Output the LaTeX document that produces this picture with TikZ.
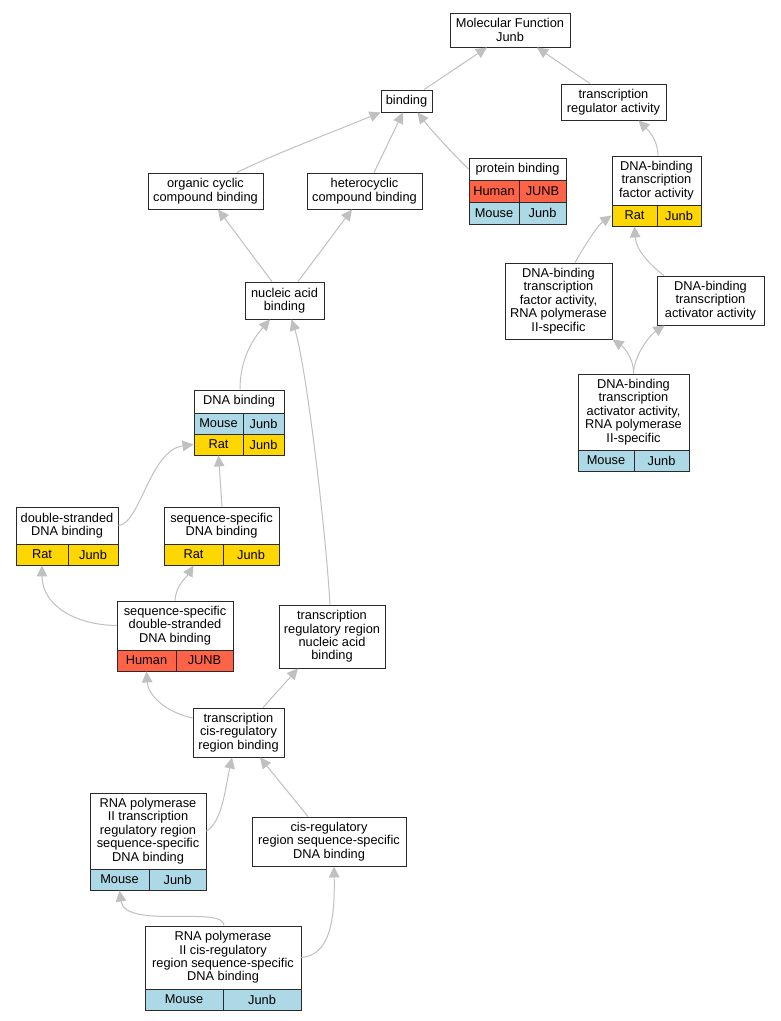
\documentclass[tikz,border=0pt]{standalone}
\usepackage{fontspec}
\setmainfont{Liberation Sans}
\usetikzlibrary{arrows.meta}
\definecolor{human}{HTML}{FF6347}
\definecolor{mouse}{HTML}{ADD8E6}
\definecolor{rat}{HTML}{FFD700}
\definecolor{edgegray}{HTML}{C0C0C0}
\definecolor{boxline}{HTML}{2A2A2A}
\tikzset{
  box/.style={draw=boxline, fill=white, line width=0.9pt, inner sep=0pt, align=center,
    font=\fontsize{12.8}{13.4}\selectfont},
  cellbox/.style={box},
  edge/.style={draw=edgegray, line width=1pt, -{Triangle[length=11pt,width=10.5pt,fill=edgegray]}},
}
\begin{document}
\begin{tikzpicture}[x=1pt,y=-1pt]
\useasboundingbox (0,0) rectangle (780,1021);
\fill[white] (0,0) rectangle (780,1021);

% simple boxes
\node[box, minimum width=120pt, minimum height=34pt] (mf) at (510,30) {Molecular Function\\Junb};
\node[box, minimum width=51pt, minimum height=22pt] (bind) at (406.5,101) {binding};
\node[box, minimum width=105pt, minimum height=36pt] (tra) at (613.5,102) {transcription\\regulator activity};
\node[box, minimum width=115pt, minimum height=36pt] (org) at (205.5,191) {organic cyclic\\compound binding};
\node[box, minimum width=115pt, minimum height=36pt] (het) at (364.5,191) {heterocyclic\\compound binding};
\node[box, minimum width=79pt, minimum height=37pt] (na) at (284.5,300.5) {nucleic acid\\binding};
\node[box, minimum width=107pt, minimum height=76pt] (tfp) at (558.5,301) {DNA-binding\\transcription\\factor activity,\\RNA polymerase\\II-specific};
\node[box, minimum width=107pt, minimum height=49pt] (act) at (710.5,300.5) {DNA-binding\\transcription\\activator activity};
\node[box, minimum width=106pt, minimum height=63pt] (trna) at (332,636.5) {transcription\\regulatory region\\nucleic acid\\binding};
\node[box, minimum width=91pt, minimum height=49pt] (tcis) at (238.5,732.5) {transcription\\cis-regulatory\\region binding};
\node[box, minimum width=154pt, minimum height=49pt] (cis) at (329,841.5) {cis-regulatory\\region sequence-specific\\DNA binding};

% protein binding table
\node[box, minimum width=97pt, minimum height=22pt] (pb) at (517.5,169) {protein binding};
\node[cellbox, fill=human, minimum width=50pt, minimum height=22pt] (pbH1) at (494,191) {Human};
\node[cellbox, fill=human, minimum width=47pt, minimum height=22pt] (pbH2) at (542.5,191) {JUNB};
\node[cellbox, fill=mouse, minimum width=50pt, minimum height=22pt] (pbM1) at (494,213) {Mouse};
\node[cellbox, fill=mouse, minimum width=47pt, minimum height=22pt] (pbM2) at (542.5,213) {Junb};

% DNA-binding transcription factor activity
\node[box, minimum width=89pt, minimum height=49pt] (dbtf) at (656.5,180.5) {DNA-binding\\transcription\\factor activity};
\node[cellbox, fill=rat, minimum width=45pt, minimum height=21pt] (dbtfR1) at (634.5,215.5) {Rat};
\node[cellbox, fill=rat, minimum width=44pt, minimum height=21pt] (dbtfR2) at (679,215.5) {Junb};

% activator activity RNA pol II
\node[box, minimum width=111pt, minimum height=76pt] (actp) at (633.5,412) {DNA-binding\\transcription\\activator activity,\\RNA polymerase\\II-specific};
\node[cellbox, fill=mouse, minimum width=56pt, minimum height=21pt] (actpM1) at (606,460.5) {Mouse};
\node[cellbox, fill=mouse, minimum width=55pt, minimum height=21pt] (actpM2) at (661.5,460.5) {Junb};

% DNA binding
\node[box, minimum width=90pt, minimum height=23pt] (dna) at (239,401.5) {DNA binding};
\node[cellbox, fill=mouse, minimum width=49pt, minimum height=21pt] (dnaM1) at (218.5,423.5) {Mouse};
\node[cellbox, fill=mouse, minimum width=41pt, minimum height=21pt] (dnaM2) at (263.5,423.5) {Junb};
\node[cellbox, fill=rat, minimum width=49pt, minimum height=21pt] (dnaR1) at (218.5,444.5) {Rat};
\node[cellbox, fill=rat, minimum width=41pt, minimum height=21pt] (dnaR2) at (263.5,444.5) {Junb};

% double-stranded DNA binding
\node[box, minimum width=102pt, minimum height=37pt] (ds) at (67,525.5) {double-stranded\\DNA binding};
\node[cellbox, fill=rat, minimum width=52pt, minimum height=21pt] (dsR1) at (42,554.5) {Rat};
\node[cellbox, fill=rat, minimum width=50pt, minimum height=21pt] (dsR2) at (93,554.5) {Junb};

% sequence-specific DNA binding
\node[box, minimum width=115pt, minimum height=37pt] (ss) at (221.5,525.5) {sequence-specific\\DNA binding};
\node[cellbox, fill=rat, minimum width=59pt, minimum height=21pt] (ssR1) at (193.5,554.5) {Rat};
\node[cellbox, fill=rat, minimum width=56pt, minimum height=21pt] (ssR2) at (251,554.5) {Junb};

% sequence-specific double-stranded DNA binding
\node[box, minimum width=116pt, minimum height=49pt] (ssds) at (175,625.5) {sequence-specific\\double-stranded\\DNA binding};
\node[cellbox, fill=human, minimum width=59pt, minimum height=21pt] (ssdsH1) at (146.5,660.5) {Human};
\node[cellbox, fill=human, minimum width=57pt, minimum height=21pt] (ssdsH2) at (204.5,660.5) {JUNB};

% RNA pol II transcription regulatory region ...
\node[box, minimum width=116pt, minimum height=76pt] (rp2) at (148,831) {RNA polymerase\\II transcription\\regulatory region\\sequence-specific\\DNA binding};
\node[cellbox, fill=mouse, minimum width=59pt, minimum height=21pt] (rp2M1) at (119.5,879.5) {Mouse};
\node[cellbox, fill=mouse, minimum width=57pt, minimum height=21pt] (rp2M2) at (177.5,879.5) {Junb};

% RNA pol II cis-regulatory region ...
\node[box, minimum width=156pt, minimum height=63pt] (rpc) at (223,957.5) {RNA polymerase\\II cis-regulatory\\region sequence-specific\\DNA binding};
\node[cellbox, fill=mouse, minimum width=78pt, minimum height=21pt] (rpcM1) at (184,999.5) {Mouse};
\node[cellbox, fill=mouse, minimum width=78pt, minimum height=21pt] (rpcM2) at (262,999.5) {Junb};

% edges (child -> parent)
\draw[edge] ([xshift=17.5pt]bind.north) -- ([xshift=-23pt]mf.south);
\draw[edge] ([xshift=-23.5pt]tra.north) -- ([xshift=27pt]mf.south);
\draw[edge] ([xshift=31.5pt]org.north) .. controls (265,158) and (330,133) .. (bind.south west);
\draw[edge] ([xshift=9.5pt]het.north) -- ([xshift=-3.5pt]bind.south);
\draw[edge] (pb.west) .. controls (462,163) and (435,135) .. ([xshift=11pt]bind.south);
\draw[edge] ([xshift=1.5pt]dbtf.north) .. controls (658,140) and (648,130) .. ([xshift=25pt]tra.south);
\draw[edge] ([xshift=-12.5pt]na.north) -- ([xshift=12.5pt]org.south);
\draw[edge] ([xshift=13.5pt]na.north) -- ([xshift=-12.5pt]het.south);
\draw[edge] ([xshift=1pt]dna.north) .. controls (240,360) and (252,340) .. ([xshift=-14.5pt]na.south);
\draw[edge] ([xshift=-2pt]trna.north) .. controls (325,520) and (305,360) .. ([xshift=7pt]na.south);
\draw[edge] (ds.east) .. controls (140,524) and (150,450) .. (dnaR1.west);
\draw[edge] ([xshift=0.5pt]ss.north) -- (dnaR1.south);
\draw[edge] (ssds.west) .. controls (75,625) and (42,605) .. (dsR1.south);
\draw[edge] (ssds.north) .. controls (176,585) and (186,578) .. (ssR1.south);
\draw[edge] ([yshift=14.5pt]tcis.west) .. controls (165,712) and (148,695) .. (ssdsH1.south);
\draw[edge] ([xshift=24.5pt]tcis.north) -- ([xshift=-34pt]trna.south);
\draw[edge] (rp2.east) .. controls (222,822) and (225,790) .. ([xshift=-6.5pt]tcis.south);
\draw[edge] ([xshift=-21pt]cis.north) -- ([xshift=21.5pt]tcis.south);
\draw[edge] ([xshift=1pt]rpc.north) .. controls (224,905) and (125,930) .. (rp2M1.south);
\draw[edge] (rpc.east) .. controls (330,955) and (335,920) .. ([xshift=5pt]cis.south);
\draw[edge] ([xshift=16.5pt]tfp.north) .. controls (585,245) and (598,225) .. (dbtfR1.west);
\draw[edge] ([xshift=-46.5pt]act.north) .. controls (650,265) and (636,250) .. (dbtfR1.south);
\draw[edge] (actp.north) .. controls (634,360) and (625,348) .. (tfp.south east);
\draw[edge] (actp.north) .. controls (634,355) and (650,335) .. ([xshift=8pt]act.south west);
\end{tikzpicture}
\end{document}
